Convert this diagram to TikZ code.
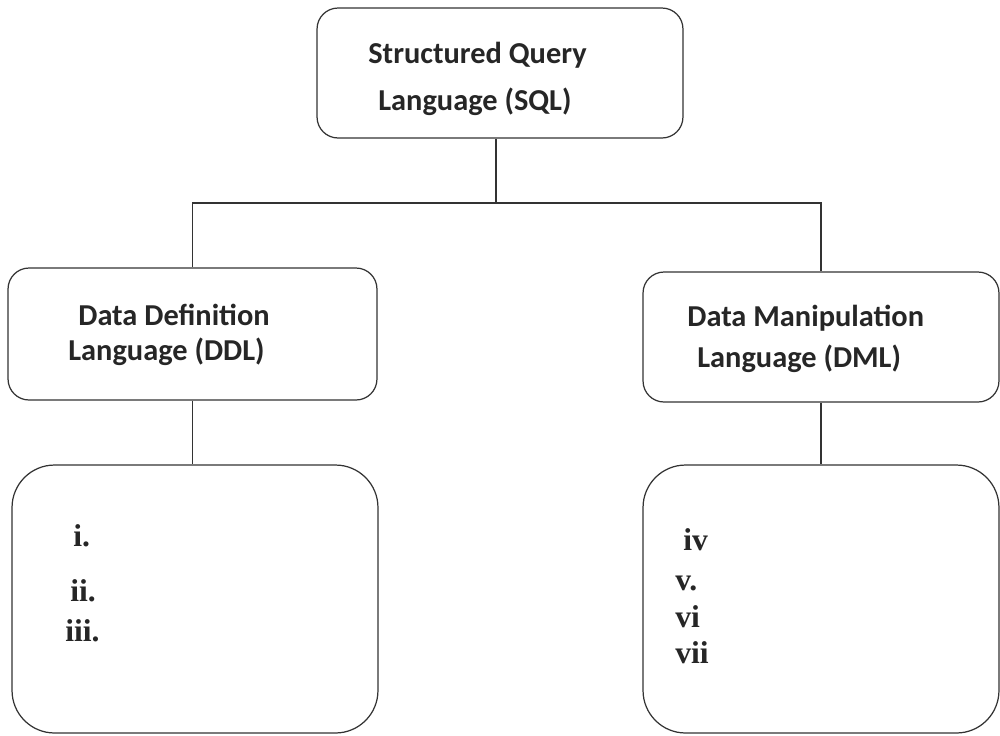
\documentclass[tikz,border=0pt]{standalone}
\usepackage{fontspec}
\setmainfont{Carlito}
\newfontfamily\numfont{Liberation Serif}
\begin{document}
\begin{tikzpicture}[x=0.02cm,y=-0.02cm,
  boxline/.style={draw=black!80,line width=0.7pt},
  smallbox/.style={boxline,rectangle,rounded corners=0.42cm,inner sep=0pt},
  bigbox/.style={boxline,rectangle,rounded corners=0.85cm,inner sep=0pt},
  head/.style={font=\fontsize{17.3}{20}\selectfont\bfseries,text=black!85,inner sep=0pt,anchor=west},
  num/.style={font=\numfont\fontsize{18}{20}\selectfont\bfseries,text=black!85,inner sep=0pt,anchor=base west},
  conn/.style={draw=black!80,line width=0.7pt}]
\useasboundingbox (0,0) rectangle (1000,735);
% boxes
\node[smallbox,minimum width=7.32cm,minimum height=2.6cm] (sql) at (500,73) {};
\node[smallbox,minimum width=7.38cm,minimum height=2.64cm] (ddl) at (192.5,334) {};
\node[smallbox,minimum width=7.12cm,minimum height=2.6cm] (dml) at (821,337) {};
\node[bigbox,minimum width=7.32cm,minimum height=5.36cm] (ddlitems) at (195,599) {};
\node[bigbox,minimum width=7.12cm,minimum height=5.36cm] (dmlitems) at (821,599) {};
% headings
\node[head] (sqlA) at (368,55) {Structured Query};
\node[head] (sqlB) at (378,102) {Language (SQL)};
\node[head] (ddlA) at (78,315) {Data Definition};
\node[head] (ddlB) at (68,352) {Language (DDL)};
\node[head] (dmlA) at (687,318) {Data Manipulation};
\node[head] (dmlB) at (697,359) {Language (DML)};
% items
\node[num] (i1) at (73,546) {i.};
\node[num] (i2) at (70,601) {ii.};
\node[num] (i3) at (65,641) {iii.};
\node[num] (i4) at (683,550) {iv};
\node[num] (i5) at (675,590) {v.};
\node[num] (i6) at (675,627) {vi};
\node[num] (i7) at (675,663) {vii};
% connectors
\coordinate (j) at (496,203);
\draw[conn] (sql.south -| j) -- (j);
\draw[conn] (ddl.north) |- (j) -| (dml.north);
\draw[conn] (ddl.south) -- (ddl.south |- ddlitems.north);
\draw[conn] (dml.south) -- (dml.south |- dmlitems.north);
\end{tikzpicture}
\end{document}
